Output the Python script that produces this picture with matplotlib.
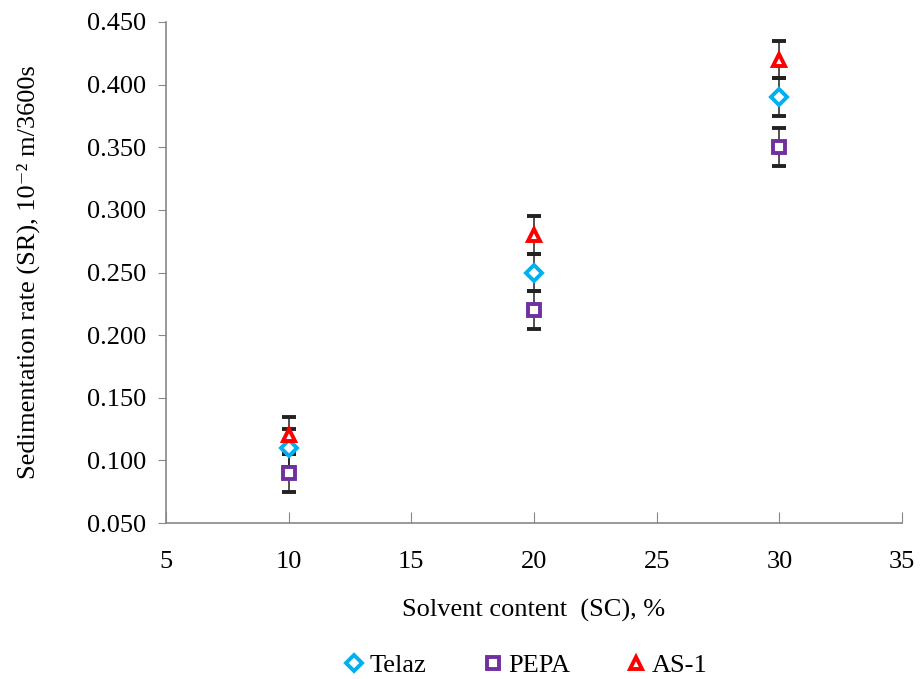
import numpy as np
import matplotlib.pyplot as plt

plt.rcParams['font.family'] = ['Liberation Serif', 'DejaVu Serif']

# data
sc = [10, 20, 30]
telaz = [0.110, 0.250, 0.390]
pepa = [0.090, 0.220, 0.350]
as1 = [0.120, 0.280, 0.420]
err = [0.015, 0.015, 0.015]

series = [
    ("Telaz", telaz, "D", "#00B0F0", 8),
    ("PEPA", pepa, "s", "#7030A0", 8),
    ("AS-1", as1, "^", "#FF0000", 9),
]

fig = plt.figure(figsize=(9.23, 6.79), dpi=100)
ax = fig.add_axes([166/923, 1 - 523/679, (902 - 166)/923, (523 - 22)/679])

for name, vals, mk, col, ms in series:
    ax.errorbar(sc, vals, yerr=err, fmt=mk, color=col, mfc="white", mec=col,
                mew=2.8, ms=ms, ecolor="#222222", elinewidth=1.1, capsize=5,
                capthick=1.1, label=name, zorder=3)

ax.set_xlim(5, 35)
ax.set_ylim(0.05, 0.45)
ax.set_xticks(np.arange(5, 36, 5))
ax.set_yticks(np.arange(0.05, 0.451, 0.05))
ax.set_yticklabels([f"{v:.3f}" for v in np.arange(0.05, 0.451, 0.05)])

for s in ["top", "right"]:
    ax.spines[s].set_visible(False)
for s in ["left", "bottom"]:
    ax.spines[s].set_color("#888888")
    ax.spines[s].set_linewidth(1.2)

ax.tick_params(axis="x", direction="in", length=8, color="#888888", labelsize=19, pad=20)
ax.tick_params(axis="y", direction="out", length=6, color="#888888", labelsize=19, pad=8)

ax.set_xlabel("Solvent content  (SC), %", fontsize=19, labelpad=19)
ax.set_ylabel("Sedimentation rate (SR), 10⁻² m/3600s", fontsize=19, labelpad=34)

handles, labels = ax.get_legend_handles_labels()
handles = [h[0] for h in handles]
fig.legend(handles, labels, loc="center", bbox_to_anchor=(0.568, 0.02),
           ncol=3, frameon=False, fontsize=19, columnspacing=2.0,
           handletextpad=0.1, handlelength=1.0)

fig.savefig("out.png", dpi=100)
